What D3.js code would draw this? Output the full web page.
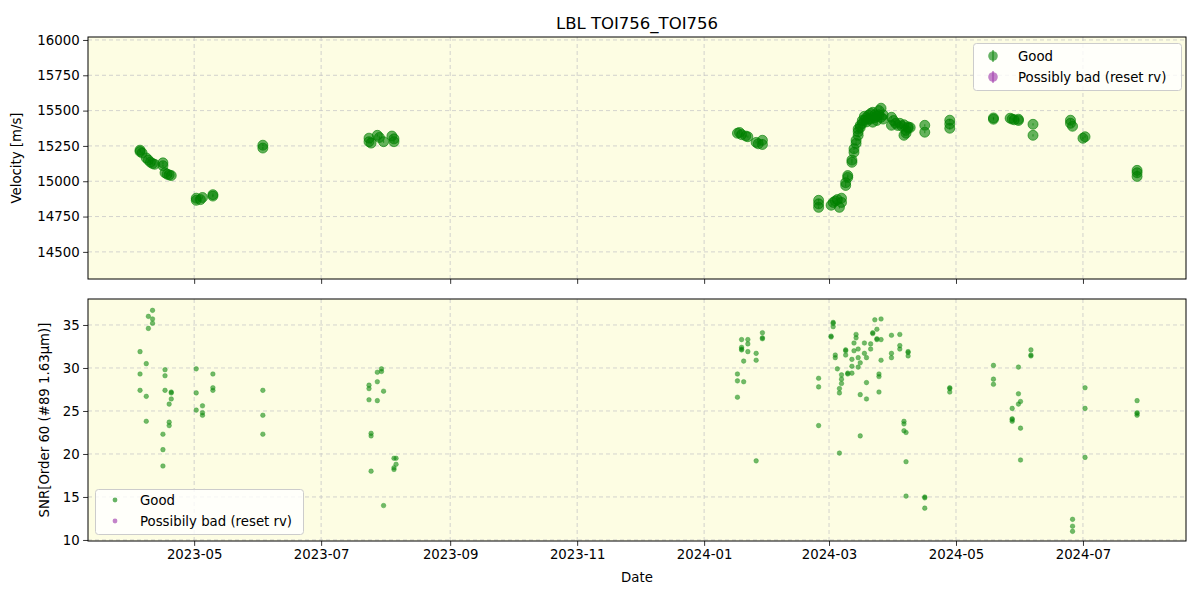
<!DOCTYPE html>
<html><head><meta charset="utf-8">
<script src="https://cdn.jsdelivr.net/npm/d3@7"></script>
<style>
body{margin:0;background:#fff;}
text{font-family:"DejaVu Sans",sans-serif;}
</style></head><body>
<svg id="chart" width="1200" height="600"></svg>
<script>
const title = "LBL TOI756_TOI756";
const xTickLabels = ["2023-05","2023-07","2023-09","2023-11","2024-01","2024-03","2024-05","2024-07"];
const velTicks = [14500,14750,15000,15250,15500,15750,16000];
const snrTicks = [10,15,20,25,30,35];
const legendLabels = ["Good","Possibly bad (reset rv)"];
const legendLabels2 = ["Good","Possibily bad (reset rv)"];

const rvDates = ["2023-04-05","2023-04-05","2023-04-06","2023-04-08","2023-04-09","2023-04-10","2023-04-11","2023-04-12",
"2023-04-16","2023-04-16","2023-04-17","2023-04-18","2023-04-19","2023-04-20",
"2023-05-02","2023-05-02","2023-05-04","2023-05-05","2023-05-10","2023-05-10","2023-06-03","2023-06-03",
"2023-07-24","2023-07-24","2023-07-25","2023-07-28","2023-07-29","2023-07-31","2023-08-04","2023-08-05","2023-08-05",
"2024-01-17","2024-01-18","2024-01-19","2024-01-21","2024-01-22","2024-01-26","2024-01-27","2024-01-29","2024-01-29",
"2024-02-25","2024-02-25","2024-02-25",
"2024-03-02","2024-03-03","2024-03-04","2024-03-05","2024-03-06","2024-03-07","2024-03-07",
"2024-03-09","2024-03-09","2024-03-10","2024-03-10",
"2024-03-12","2024-03-12","2024-03-13","2024-03-13","2024-03-14","2024-03-14","2024-03-15","2024-03-15","2024-03-16","2024-03-17","2024-03-18","2024-03-19","2024-03-20","2024-03-21","2024-03-22","2024-03-22","2024-03-23","2024-03-24","2024-03-25","2024-03-26","2024-03-26","2024-03-27",
"2024-03-15","2024-03-16","2024-03-17","2024-03-18","2024-03-19","2024-03-20","2024-03-21","2024-03-23","2024-03-24","2024-03-25","2024-03-27",
"2024-03-31","2024-03-31","2024-04-01","2024-04-02","2024-04-03","2024-04-04","2024-04-05","2024-04-06","2024-04-06","2024-04-07","2024-04-07","2024-04-08","2024-04-08","2024-04-09",
"2024-04-16","2024-04-16","2024-04-28","2024-04-28","2024-04-28",
"2024-05-19","2024-05-19","2024-05-27","2024-05-28","2024-05-29","2024-05-31","2024-05-31",
"2024-06-07","2024-06-07","2024-06-25","2024-06-25","2024-06-26","2024-07-01","2024-07-02",
"2024-07-27","2024-07-27","2024-07-27"];
const rvValues = [15220,15210,15200,15165,15150,15135,15125,15120,
15130,15110,15060,15050,15045,15040,
14880,14865,14870,14885,14905,14895,15255,15235,
15305,15280,15270,15325,15310,15280,15320,15300,15280,
15340,15345,15330,15320,15315,15275,15265,15290,15260,
14865,14840,14815,
14830,14850,14860,14870,14815,14880,14850,
14970,14990,15027,15040,
15134,15150,15205,15230,15268,15290,15325,15350,15396,15410,15432,15450,15467,15440,15488,15418,15450,15430,15470,15517,15453,15440,
15370,15380,15430,15460,15420,15440,15480,15470,15460,15500,15470,
15453,15396,15430,15410,15395,15410,15390,15400,15325,15340,15360,15375,15385,15380,
15396,15347,15432,15375,15405,
15439,15448,15446,15440,15435,15439,15430,
15403,15325,15432,15410,15389,15304,15315,
15077,15060,15034];

const snrDates = ["2023-04-11","2023-04-09","2023-04-11","2023-04-11","2023-04-09","2023-04-05","2023-04-08","2023-04-05","2023-04-17","2023-04-17","2023-04-05","2023-04-08","2023-04-17","2023-04-20","2023-04-20","2023-04-20","2023-04-19","2023-04-08","2023-04-19","2023-04-19","2023-04-16","2023-04-16","2023-04-16",
"2023-05-02","2023-05-10","2023-05-02","2023-05-10","2023-05-10","2023-05-02","2023-05-05","2023-05-05","2023-05-05","2023-06-03","2023-06-03","2023-06-03",
"2023-07-30","2023-07-28","2023-07-30","2023-07-28","2023-07-24","2023-07-24","2023-07-31","2023-07-24","2023-07-28","2023-07-25","2023-07-25","2023-08-05","2023-08-06","2023-08-06","2023-08-05","2023-08-05","2023-07-25","2023-07-31",
"2024-01-19","2024-01-22","2024-01-22","2024-01-19","2024-01-19","2024-01-19","2024-01-22","2024-01-20","2024-01-26","2024-01-26","2024-01-29","2024-01-29","2024-01-29","2024-01-17","2024-01-17","2024-01-20","2024-01-17","2024-01-26",
"2024-02-25","2024-02-25","2024-02-25",
"2024-03-03","2024-03-03","2024-03-03","2024-03-02","2024-03-02","2024-03-04","2024-03-04","2024-03-05","2024-03-07","2024-03-07","2024-03-07","2024-03-06","2024-03-06","2024-03-06",
"2024-03-09","2024-03-09","2024-03-09","2024-03-10","2024-03-10","2024-03-12","2024-03-12","2024-03-12","2024-03-13","2024-03-13","2024-03-14","2024-03-14","2024-03-15","2024-03-15","2024-03-15","2024-03-16","2024-03-16","2024-03-16","2024-03-18","2024-03-18","2024-03-19","2024-03-19","2024-03-19","2024-03-21","2024-03-21","2024-03-22","2024-03-22","2024-03-23","2024-03-24","2024-03-24","2024-03-24","2024-03-26","2024-03-26","2024-03-26","2024-03-25","2024-03-25","2024-03-25",
"2024-03-31","2024-04-04","2024-03-31","2024-03-31","2024-04-04","2024-04-04","2024-04-08","2024-04-08","2024-04-08","2024-04-06","2024-04-06","2024-04-06","2024-04-07","2024-04-07","2024-04-07","2024-04-16","2024-04-16","2024-04-16","2024-04-28","2024-04-28","2024-04-28",
"2024-05-19","2024-05-19","2024-05-19","2024-05-31","2024-06-06","2024-06-06","2024-06-06","2024-05-31","2024-06-01","2024-05-31","2024-05-28","2024-05-28","2024-05-28","2024-05-28","2024-06-01","2024-06-01","2024-07-02","2024-07-02","2024-07-02","2024-06-26","2024-06-26","2024-06-26","2024-07-27","2024-07-27","2024-07-27","2024-07-27"];
const snrValues = [36.7,36.0,35.7,35.2,34.6,31.9,30.5,29.3,29.8,29.1,27.4,26.7,27.4,27.1,27.2,26.4,25.8,23.8,23.7,23.3,22.3,20.5,18.6,
29.9,29.3,27.1,27.7,27.4,25.1,25.6,24.8,24.5,27.4,24.5,22.3,
29.9,29.5,29.6,28.4,28.0,27.6,27.3,26.3,26.2,22.4,22.1,19.5,19.5,18.8,18.4,18.2,18.0,14.0,
33.3,33.3,32.8,32.4,32.1,32.2,31.9,30.8,31.7,30.9,34.1,33.4,33.5,29.3,28.5,28.4,26.6,19.2,
28.8,27.8,23.3,
35.2,35.3,34.8,33.6,33.7,31.5,31.2,29.9,29.2,28.7,28.2,27.6,27.1,20.1,
32.0,32.1,31.5,29.3,29.4,31.0,30.2,29.4,32.0,32.9,33.5,33.9,32.2,31.2,30.1,30.6,26.9,22.1,32.9,31.7,31.2,28.3,26.4,32.8,32.2,34.1,34.0,35.6,34.5,33.3,33.4,35.7,33.3,30.9,29.3,29.0,27.2,
33.8,33.9,31.7,31.2,32.6,32.2,31.9,31.8,31.4,23.8,23.5,22.7,22.5,19.1,15.1,14.9,15.0,13.7,27.7,27.6,27.2,
30.3,28.7,28.1,30.1,32.1,31.5,31.4,27.0,26.1,25.8,25.3,24.1,24.0,23.8,23.0,19.3,27.7,25.3,19.6,12.4,11.6,11.0,26.2,24.8,24.7,24.5];

const parse = d3.utcParse("%Y-%m-%d");
const svg = d3.select("#chart");
const L = 88, R = 1186;
const top1 = 37, bot1 = 279, top2 = 299, bot2 = 541;
const bg = "#fdfde3";
const green = "#008000";

const x = d3.scaleUtc().domain([parse("2023-03-11"), new Date(Date.UTC(2024,7,19,12))]).range([L, R]);
const y1 = d3.scaleLinear().domain([14308, 16021]).range([bot1, top1]);
const y2 = d3.scaleLinear().domain([9.88, 38.02]).range([bot2, top2]);
const xTicks = xTickLabels.map(s => parse(s + "-01"));

function panel(y, yt, t, b, labelText, labelX, showX) {
  svg.append("rect").attr("x", L).attr("y", t).attr("width", R - L).attr("height", b - t).attr("fill", bg);
  const g = svg.append("g");
  g.selectAll(".gx").data(xTicks).enter().append("line")
    .attr("x1", d => x(d)).attr("x2", d => x(d)).attr("y1", t).attr("y2", b)
    .attr("stroke", "#c8c8c8").attr("stroke-width", 0.8).attr("stroke-dasharray", "4,3");
  g.selectAll(".gy").data(yt).enter().append("line")
    .attr("x1", L).attr("x2", R).attr("y1", d => y(d)).attr("y2", d => y(d))
    .attr("stroke", "#c8c8c8").attr("stroke-width", 0.8).attr("stroke-dasharray", "4,3");
  const ya = d3.axisLeft(y).tickValues(yt).tickSize(4.9).tickPadding(3.5).tickFormat(d3.format("d"));
  const yg = svg.append("g").attr("transform", `translate(${L},0)`).call(ya);
  const xa = d3.axisBottom(x).tickValues(xTicks).tickSize(4.9).tickPadding(3.5)
    .tickFormat(showX ? d3.utcFormat("%Y-%m") : () => "");
  const xg = svg.append("g").attr("transform", `translate(0,${b})`).call(xa);
  [yg, xg].forEach(a => {
    a.select(".domain").remove();
    a.selectAll("text").attr("font-size", "13.3px").attr("fill", "#000").attr("font-family", "DejaVu Sans");
    a.selectAll("line").attr("stroke", "#000").attr("stroke-width", 0.8);
  });
  svg.append("text").attr("transform", `translate(${labelX},${(t + b) / 2}) rotate(-90)`)
    .attr("text-anchor", "middle").attr("font-size", "13.3px").text(labelText);
  return g;
}
function frame(t, b) {
  svg.append("rect").attr("x", L).attr("y", t).attr("width", R - L).attr("height", b - t)
    .attr("fill", "none").attr("stroke", "#000").attr("stroke-width", 1);
}

// Top panel
panel(y1, velTicks, top1, bot1, "Velocity [m/s]", 21, false);
const rv = rvDates.map((d, i) => ({ d: parse(d), v: rvValues[i] }));
const gTop = svg.append("g");
gTop.selectAll("line.err").data(rv).enter().append("line")
  .attr("x1", d => x(d.d)).attr("x2", d => x(d.d))
  .attr("y1", d => y1(d.v - 8)).attr("y2", d => y1(d.v + 8))
  .attr("stroke", green).attr("stroke-opacity", 0.6).attr("stroke-width", 1.2);
gTop.selectAll("circle").data(rv).enter().append("circle")
  .attr("cx", d => x(d.d)).attr("cy", d => y1(d.v)).attr("r", 5)
  .attr("fill", green).attr("fill-opacity", 0.6).attr("stroke", green).attr("stroke-opacity", 0.6).attr("stroke-width", 1);
frame(top1, bot1);

const lg1 = svg.append("g");
lg1.append("rect").attr("x", 973.5).attr("y", 43.5).attr("width", 208).attr("height", 47).attr("rx", 3)
  .attr("fill", "#fff").attr("fill-opacity", 0.8).attr("stroke", "#cccccc");
[[green, 56], ["#9b30a8", 77]].forEach(([c, yy], i) => {
  lg1.append("line").attr("x1", 993).attr("x2", 993).attr("y1", yy - 6).attr("y2", yy + 6).attr("stroke", c).attr("stroke-opacity", 0.6).attr("stroke-width", 1.5);
  lg1.append("circle").attr("cx", 993).attr("cy", yy).attr("r", 4.8).attr("fill", c).attr("fill-opacity", 0.6);
  lg1.append("text").attr("x", 1018).attr("y", yy + 5).attr("font-size", "13.3px").text(legendLabels[i]);
});

// Bottom panel
panel(y2, snrTicks, top2, bot2, "SNR[Order 60 (#89 1.63μm)]", 49, true);
const sn = snrDates.map((d, i) => ({ d: parse(d), v: snrValues[i] }));
svg.append("g").selectAll("circle").data(sn).enter().append("circle")
  .attr("cx", d => x(d.d)).attr("cy", d => y2(d.v)).attr("r", 2.3)
  .attr("fill", green).attr("fill-opacity", 0.55).attr("stroke", "#2ea02e").attr("stroke-opacity", 0.5).attr("stroke-width", 0.8);
frame(top2, bot2);

const lg2 = svg.append("g");
lg2.append("rect").attr("x", 95.5).attr("y", 489.5).attr("width", 208).attr("height", 45).attr("rx", 3)
  .attr("fill", "#fff").attr("fill-opacity", 0.8).attr("stroke", "#cccccc");
[[green, 500], ["#9b30a8", 521]].forEach(([c, yy], i) => {
  lg2.append("circle").attr("cx", 115).attr("cy", yy).attr("r", 2.4).attr("fill", c).attr("fill-opacity", 0.6);
  lg2.append("text").attr("x", 140).attr("y", yy + 5).attr("font-size", "13.3px").text(legendLabels2[i]);
});

svg.append("text").attr("x", 637).attr("y", 582).attr("text-anchor", "middle").attr("font-size", "13.3px").text("Date");
svg.append("text").attr("x", 637).attr("y", 29).attr("text-anchor", "middle").attr("font-size", "16.5px").text(title);
</script>
</body></html>
